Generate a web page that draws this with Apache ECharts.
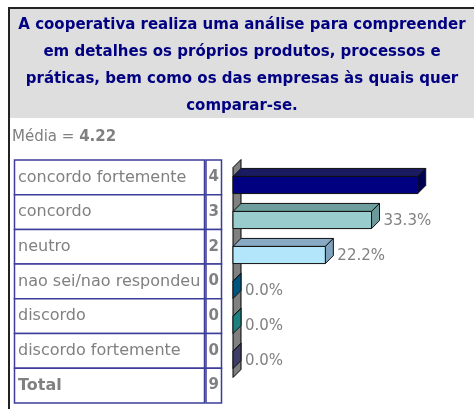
<!DOCTYPE html>
<html>
<head>
<meta charset="utf-8">
<script src="https://cdn.jsdelivr.net/npm/echarts@6/dist/echarts.min.js"></script>
<style>
html,body{margin:0;padding:0;background:#fff;}
#main{width:474px;height:409px;}
</style>
</head>
<body>
<div id="main"></div>
<script>
// dados
var titleLines = [
  'A cooperativa realiza uma análise para compreender',
  'em detalhes os próprios produtos, processos e',
  'práticas, bem como os das empresas às quais quer',
  'comparar-se.'
];
var mediaValue = '4.22';
var categories = ['concordo fortemente', 'concordo', 'neutro', 'nao sei/nao respondeu', 'discordo', 'discordo fortemente'];
var counts = [4, 3, 2, 0, 0, 0];
var percents = [44.4, 33.3, 22.2, 0, 0, 0];
var totalCount = 9;

// cores das barras 3D (frente / topo / lado)
var frontColors = ['#000080', '#99cccc', '#b3e6fa', '#006699', '#339999', '#555588'];
var topColors = ['#1a1a60', '#6e9e9e', '#88aac4', '#005580', '#1f8585', '#40406a'];
var sideColors = ['#000050', '#6b9999', '#7fa3bf', '#00557f', '#1d8080', '#3d3d66'];

var DEPTH = 8;
var GRAY = '#808080';
var NAVY = '#000080';
var BORDER = '#3d3d99';

var chart = echarts.init(document.getElementById('main'), null, {renderer: 'canvas'});

// caixa do título + moldura
var graphics = [];
graphics.push({type: 'rect', shape: {x: 9, y: 8, width: 470, height: 110}, style: {fill: '#dedede'}, z: 0});
graphics.push({type: 'line', shape: {x1: 9, y1: 8, x2: 474, y2: 8}, style: {stroke: '#222', lineWidth: 2}, z: 1});
graphics.push({type: 'line', shape: {x1: 9, y1: 7, x2: 9, y2: 409}, style: {stroke: '#222', lineWidth: 2}, z: 1});
titleLines.forEach(function (line, i) {
  graphics.push({
    type: 'text', x: 242, y: 25 + i * 27, z: 2,
    style: {text: line, fill: NAVY, font: 'bold 15px "DejaVu Sans"', align: 'center', verticalAlign: 'middle'}
  });
});
graphics.push({
  type: 'text', x: 12, y: 137, z: 2,
  style: {
    text: '{a|Média = }{b|' + mediaValue + '}',
    rich: {
      a: {fill: GRAY, font: '15px "DejaVu Sans"'},
      b: {fill: GRAY, font: 'bold 15px "DejaVu Sans"'}
    },
    verticalAlign: 'middle'
  }
});

// tabela
var rowTop = 160, rowH = 34.7;
var tableRows = categories.map(function (c, i) { return [c, counts[i], false]; });
tableRows.push(['Total', totalCount, true]);
tableRows.forEach(function (r, i) {
  var y = rowTop + i * rowH;
  graphics.push({type: 'rect', shape: {x: 14.5, y: y, width: 190, height: rowH}, style: {fill: '#fff', stroke: BORDER, lineWidth: 1.5}, z: 2});
  graphics.push({type: 'rect', shape: {x: 206, y: y, width: 15.5, height: rowH}, style: {fill: '#fff', stroke: BORDER, lineWidth: 1.5}, z: 2});
  graphics.push({
    type: 'text', x: 18, y: y + rowH / 2, z: 3,
    style: {text: r[0], fill: GRAY, font: (r[2] ? 'bold ' : '') + '16px "DejaVu Sans"', verticalAlign: 'middle'}
  });
  graphics.push({
    type: 'text', x: 213.8, y: y + rowH / 2, z: 3,
    style: {text: String(r[1]), fill: GRAY, font: 'bold 15px "DejaVu Sans"', align: 'center', verticalAlign: 'middle'}
  });
});

// parede do eixo
function renderWall(params, api) {
  var cs = params.coordSys;
  var x = cs.x, yt = cs.y, yb = cs.y + cs.height;
  return {
    type: 'polygon',
    shape: {points: [[x, yt], [x + DEPTH, yt - DEPTH], [x + DEPTH, yb - DEPTH], [x, yb]]},
    style: {fill: '#808080', stroke: '#000', lineWidth: 1}
  };
}

// barras 3D
function renderBar(params, api) {
  var v = api.value(0);
  var idx = params.dataIndex;
  var start = api.coord([0, idx]);
  var end = api.coord([v, idx]);
  var h = api.size([0, 1])[1] * 0.49;
  var x0 = start[0], x1 = end[0];
  var y0 = start[1] - h / 2, y1 = start[1] + h / 2;
  var d = DEPTH;
  var children = [
    {type: 'polygon', shape: {points: [[x0, y0], [x0 + d, y0 - d], [x1 + d, y0 - d], [x1, y0]]},
      style: {fill: topColors[idx], stroke: '#111', lineWidth: 1}},
    {type: 'polygon', shape: {points: [[x1, y0], [x1 + d, y0 - d], [x1 + d, y1 - d], [x1, y1]]},
      style: {fill: sideColors[idx], stroke: '#111', lineWidth: 1}}
  ];
  if (x1 > x0) {
    children.push({type: 'rect', shape: {x: x0, y: y0, width: x1 - x0, height: h},
      style: {fill: frontColors[idx], stroke: '#111', lineWidth: 1}});
  }
  var lx = x1 + d + 4;
  if (lx + 46 < api.getWidth()) {
    children.push({type: 'text', x: lx, y: start[1] + 1,
      style: {text: v.toFixed(1) + '%', fill: GRAY, font: '15px "DejaVu Sans"', verticalAlign: 'middle'}});
  }
  return {type: 'group', children: children};
}

var option = {
  animation: false,
  graphic: graphics,
  grid: {left: 233, top: 167.5, width: 208, height: 210},
  xAxis: {type: 'value', min: 0, max: 50, show: false},
  yAxis: {type: 'category', data: categories, inverse: true, show: false},
  series: [
    {type: 'custom', renderItem: renderWall, data: [[0, 0]], z: 1, silent: true},
    {type: 'custom', renderItem: renderBar, data: percents.map(function (p, i) { return [p, i]; }),
      encode: {x: 0, y: 1}, z: 2, clip: false}
  ]
};
chart.setOption(option);
</script>
</body>
</html>
